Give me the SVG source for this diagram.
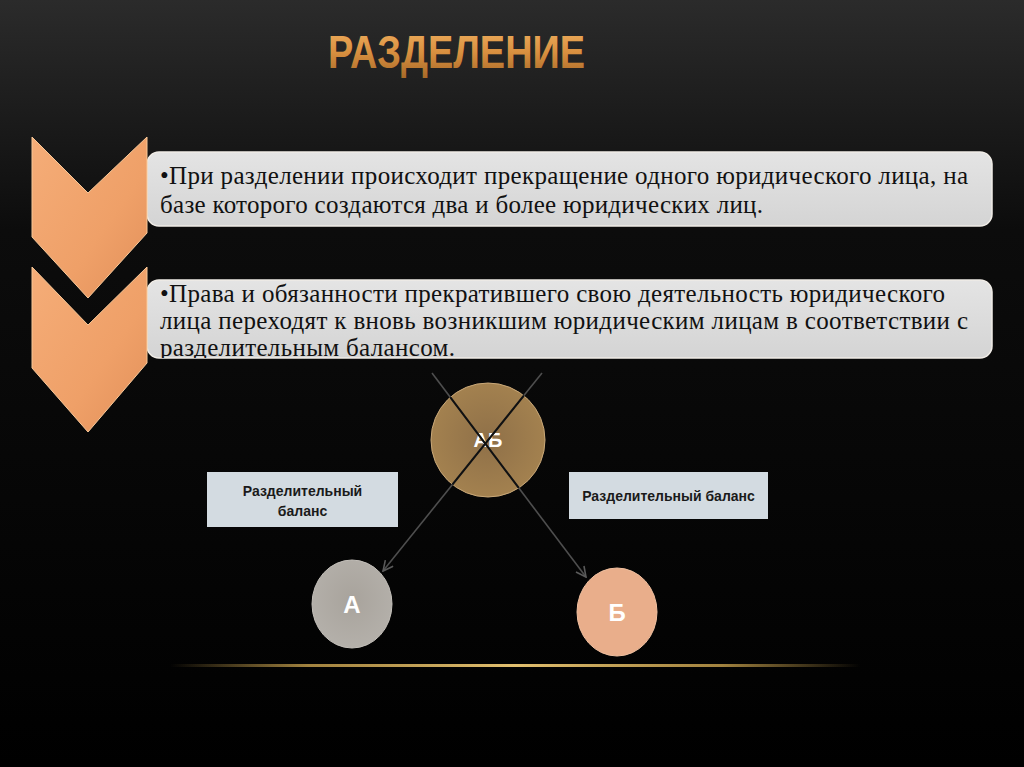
<svg xmlns="http://www.w3.org/2000/svg" width="1024" height="767" viewBox="0 0 1024 767">
<defs>
<linearGradient id="bg" x1="0" y1="0" x2="0" y2="1">
<stop offset="0" stop-color="#2b2b2b"/>
<stop offset="0.3" stop-color="#0c0c0c"/>
<stop offset="1" stop-color="#000"/>
</linearGradient>
<linearGradient id="title" x1="0" y1="0" x2="0" y2="1">
<stop offset="0" stop-color="#f0b060"/>
<stop offset="0.5" stop-color="#d99040"/>
<stop offset="1" stop-color="#a86a28"/>
</linearGradient>
<linearGradient id="chev" x1="0" y1="0" x2="1" y2="1">
<stop offset="0" stop-color="#f5ad78"/>
<stop offset="0.6" stop-color="#efa068"/>
<stop offset="1" stop-color="#e2905a"/>
</linearGradient>
<linearGradient id="box" x1="0" y1="0" x2="0" y2="1">
<stop offset="0" stop-color="#e4e4e4"/>
<stop offset="1" stop-color="#d4d4d4"/>
</linearGradient>
<linearGradient id="gold" x1="0" y1="0" x2="1" y2="0">
<stop offset="0" stop-color="#c9a24e" stop-opacity="0"/>
<stop offset="0.2" stop-color="#c9a24e" stop-opacity="0.8"/>
<stop offset="0.5" stop-color="#e2c070"/>
<stop offset="0.8" stop-color="#c9a24e" stop-opacity="0.8"/>
<stop offset="1" stop-color="#c9a24e" stop-opacity="0"/>
</linearGradient>
<radialGradient id="ga" cx="0.5" cy="0.45" r="0.55">
<stop offset="0" stop-color="#a8a39c"/>
<stop offset="1" stop-color="#b4b0aa"/>
</radialGradient>
<radialGradient id="gab" cx="0.5" cy="0.5" r="0.5">
<stop offset="0" stop-color="#8f7048"/>
<stop offset="1" stop-color="#a3814f"/>
</radialGradient>
<clipPath id="clip2"><rect x="147" y="280" width="845" height="78" rx="12"/></clipPath>
<clipPath id="clipAB"><circle cx="488" cy="440" r="57"/></clipPath>
<marker id="arr" viewBox="0 0 12 12" refX="11" refY="6" markerWidth="12" markerHeight="12" markerUnits="userSpaceOnUse" orient="auto">
<path d="M1,1 L11,6 L1,11" fill="none" stroke="#5a5a5a" stroke-width="1.6"/>
</marker>
<style>
.body{font-family:"Liberation Serif","Times New Roman",serif;font-size:25px;fill:#111}
.lbl{font-family:"Liberation Sans",Arial,sans-serif;font-weight:bold;font-size:14px;fill:#1a1a1a}
.circ{font-family:"Liberation Sans",Arial,sans-serif;font-weight:bold;fill:#fff}
.box{fill:url(#box);stroke:#f0ece6;stroke-width:1.5}
.chev{fill:url(#chev);stroke:#f8c898;stroke-width:1}
.lbox{fill:#d3dbe1}
.conn{stroke:#4e4e4e;stroke-width:1.6;fill:none}
</style>
</defs>
<rect width="1024" height="767" fill="url(#bg)"/>
<text x="328" y="68" font-family="Liberation Sans,Arial,sans-serif" font-weight="bold" font-size="46" fill="url(#title)" textLength="257" lengthAdjust="spacingAndGlyphs">РАЗДЕЛЕНИЕ</text>
<rect x="170" y="664" width="690" height="3" fill="url(#gold)"/>

<g id="box1">
<rect class="box" x="147" y="152" width="845" height="74" rx="12"/>
<text class="body" x="160" y="184" textLength="808">•При разделении происходит прекращение одного юридического лица, на</text>
<text class="body" x="160" y="213" textLength="603">базе которого создаются два и более юридических лиц.</text>
</g>
<g id="box2">
<rect class="box" x="147" y="280" width="845" height="78" rx="12"/>
<g clip-path="url(#clip2)">
<text class="body" x="160" y="302" textLength="785">•Права и обязанности прекратившего свою деятельность юридического</text>
<text class="body" x="160" y="329" textLength="808">лица переходят к вновь возникшим юридическим лицам в соответствии с</text>
<text class="body" x="160" y="356" textLength="295">разделительным балансом.</text>
</g>
</g>
<g id="chevron1">
<polygon class="chev" points="32,137 88,193 147,137 147,233 88,298 32,237"/>
</g>
<g id="chevron2">
<polygon class="chev" points="32,267 88,325 147,267 147,363 88,432 32,368"/>
</g>

<g id="nodeAB">
<circle cx="488" cy="440" r="57" fill="url(#gab)" stroke="#c9a878" stroke-width="1"/>
<text class="circ" x="488" y="447" font-size="20" text-anchor="middle" fill="#e4dfd6">АБ</text>
</g>
<g id="label1">
<rect class="lbox" x="207" y="472" width="191" height="55"/>
<text class="lbl" x="302.5" y="496" text-anchor="middle">Разделительный</text>
<text class="lbl" x="302.5" y="516" text-anchor="middle">баланс</text>
</g>
<g id="label2">
<rect class="lbox" x="569" y="472" width="199" height="47"/>
<text class="lbl" x="668.5" y="501" text-anchor="middle">Разделительный баланс</text>
</g>
<g id="nodeA">
<ellipse cx="352" cy="604" rx="40" ry="44" fill="url(#ga)" stroke="#c4c0ba" stroke-width="1"/>
<text class="circ" x="352" y="613" font-size="24" text-anchor="middle">А</text>
</g>
<g id="nodeB">
<ellipse cx="617" cy="612" rx="40" ry="44" fill="#e9ae8b" stroke="#f0c0a0" stroke-width="1"/>
<text class="circ" x="617" y="621" font-size="24" text-anchor="middle">Б</text>
</g>

<g id="connectors">
<line class="conn" x1="432" y1="373" x2="586" y2="577" marker-end="url(#arr)"/>
<line class="conn" x1="542" y1="373" x2="383" y2="571" marker-end="url(#arr)"/>
<g clip-path="url(#clipAB)">
<line x1="432" y1="373" x2="586" y2="577" stroke="#111" stroke-width="2"/>
<line x1="542" y1="373" x2="383" y2="571" stroke="#111" stroke-width="2"/>
</g>
</g>
</svg>
